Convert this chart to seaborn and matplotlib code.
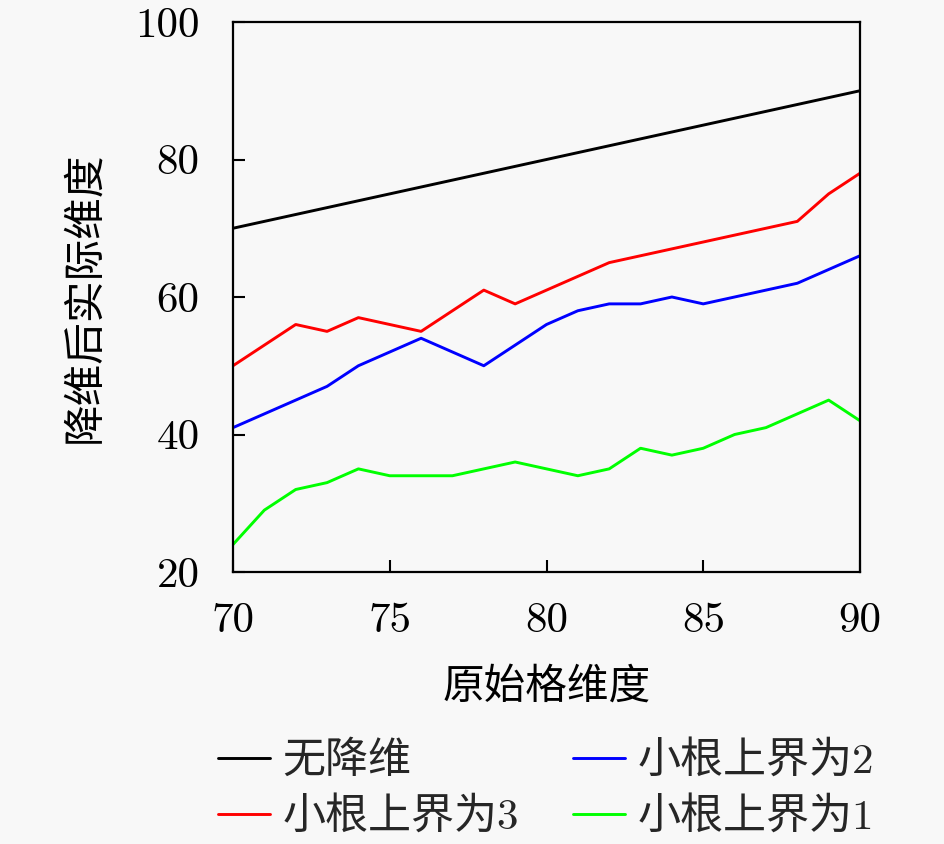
import numpy as np
import pandas as pd
import seaborn as sns
import matplotlib
matplotlib.use("Agg")
import matplotlib.pyplot as plt

# ---- data ----
x_dims = list(range(70, 91))
no_reduction = [70, 71, 72, 73, 74, 75, 76, 77, 78, 79, 80, 81, 82, 83, 84, 85, 86, 87, 88, 89, 90]
bound3 = [50, 53, 56, 55, 57, 56, 55, 58, 61, 59, 61, 63, 65, 66, 67, 68, 69, 70, 71, 75, 78]
bound2 = [41, 43, 45, 47, 50, 52, 54, 52, 50, 53, 56, 58, 59, 59, 60, 59, 60, 61, 62, 64, 66]
bound1 = [24, 29, 32, 33, 35, 34, 34, 34, 35, 36, 35, 34, 35, 38, 37, 38, 40, 41, 43, 45, 42]
series_names = ["无降维", "小根上界为3", "小根上界为2", "小根上界为1"]
series_colors = ["#000000", "#ff0000", "#0000ff", "#00ff00"]
x_ticks = [70, 75, 80, 85, 90]
y_ticks = [20, 40, 60, 80, 100]
x_label = "原始格维度"
y_label = "降维后实际维度"

df = pd.concat([
    pd.DataFrame({"x": x_dims, "y": vals, "series": name})
    for name, vals in zip(series_names, [no_reduction, bound3, bound2, bound1])
], ignore_index=True)

sns.set_theme(style="white")
fam = ["cmr10", "Noto Sans CJK SC", "DejaVu Sans"]
plt.rcParams["font.family"] = fam
plt.rcParams["axes.formatter.use_mathtext"] = True
plt.rcParams["mathtext.fontset"] = "cm"

bg = "#f8f8f8"
lw = 2.1
fig = plt.figure(figsize=(9.45, 8.44), dpi=100, facecolor=bg)
ax = fig.add_axes([233 / 945, 1 - 572 / 844, (860 - 233) / 945, (572 - 22) / 844])
ax.set_facecolor(bg)

sns.lineplot(data=df, x="x", y="y", hue="series", hue_order=series_names,
             palette=series_colors, linewidth=lw, ax=ax, legend=True)

ax.set_xlim(70, 90)
ax.set_ylim(20, 100)
ax.set_xticks(x_ticks)
ax.set_yticks(y_ticks)
ax.set_xticklabels([str(t) for t in x_ticks], fontsize=31, family=fam)
ax.set_yticklabels([str(t) for t in y_ticks], fontsize=31, family=fam)
ax.tick_params(direction="in", length=8.5, width=1.5, colors="black",
               bottom=True, left=True, top=False, right=False)
ax.tick_params(axis="x", pad=22)
ax.tick_params(axis="y", pad=24)
for s in ax.spines.values():
    s.set_visible(True)
    s.set_color("black")
    s.set_linewidth(1.6)

ax.set_xlabel(x_label, fontsize=30, family=fam, color="black", labelpad=20)
ax.set_ylabel(y_label, fontsize=30, family=fam, color="black", labelpad=22)

handles, labels = ax.get_legend_handles_labels()
ax.get_legend().remove()
leg = fig.legend(handles, labels, loc="center", bbox_to_anchor=(546 / 945, 1 - 789 / 844),
                 ncol=2, frameon=False, prop={"family": fam, "size": 31},
                 handlelength=1.2, handletextpad=0.3, columnspacing=1.25,
                 labelspacing=0.38, borderpad=0.0)
for h in leg.legend_handles:
    h.set_linewidth(lw)

fig.savefig("out.png", dpi=100, facecolor=bg)
